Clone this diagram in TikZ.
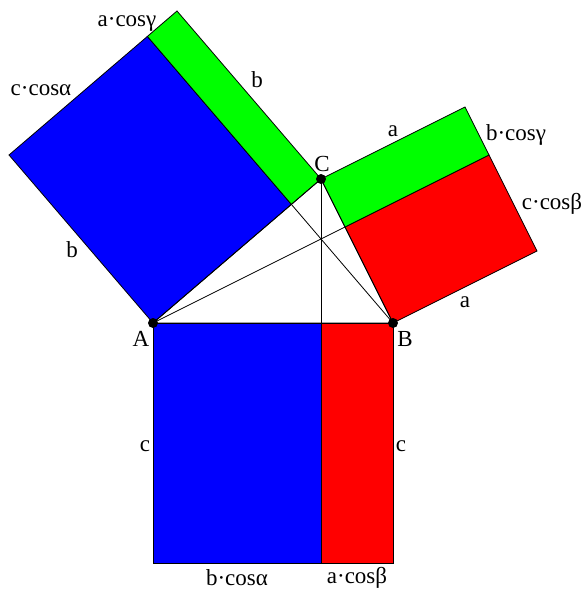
\documentclass[tikz,border=0pt]{standalone}
\usepackage{fontspec}
\setmainfont{Liberation Serif}
\newfontfamily\lblfont{Liberation Serif}
\usepackage{xcolor}

\begin{document}
\begin{tikzpicture}[x=1pt, y=-1pt,
    part/.style={draw=black, line width=0.8pt},
    edge/.style={black, line width=0.8pt},
    dot/.style={circle, fill=black, inner sep=0pt, minimum size=10pt},
    lbl/.style={inner sep=0pt, font=\lblfont\fontsize{23}{26}\selectfont}]
                \useasboundingbox (0,0) rectangle (584,590);
                % Triangle vertices and feet of the altitudes
                \coordinate (A) at (153,323);
                \coordinate (B) at (393,323);
                \coordinate (C) at (321,179);
                \coordinate (Ha) at (345,227);
                \coordinate (Hb) at (291.4,204.4);
                \coordinate (Hc) at (321,323);
                
                % Outer corners of the squares
                \coordinate (Ab) at (9,155);
                \coordinate (Cb) at (177,11);
                \coordinate (Hbb) at (147.4,36.4);
                \coordinate (Ba) at (537,251);
                \coordinate (Ca) at (465,107);
                \coordinate (Haa) at (489,155);
                \coordinate (Ac) at (153,563);
                \coordinate (Bc) at (393,563);
                \coordinate (Hcc) at (321,563);
                
                % Square on AC
                \filldraw[part, fill=blue] (A) -- (Hb) -- (Hbb) -- (Ab) -- cycle;
                \filldraw[part, fill=green] (Hb) -- (C) -- (Cb) -- (Hbb) -- cycle;
                
                % Square on BC
                \filldraw[part, fill=red] (B) -- (Ha) -- (Haa) -- (Ba) -- cycle;
                \filldraw[part, fill=green] (Ha) -- (C) -- (Ca) -- (Haa) -- cycle;
                
                % Square on AB
                \filldraw[part, fill=blue] (A) -- (Hc) -- (Hcc) -- (Ac) -- cycle;
                \filldraw[part, fill=red] (Hc) -- (B) -- (Bc) -- (Hcc) -- cycle;
                
                % Triangle and altitudes
                \draw[edge] (A) -- (B) -- (C) -- cycle;
                \draw[edge] (A) -- (Ha);
                \draw[edge] (B) -- (Hb);
                \draw[edge] (C) -- (Hcc);
                
                % Vertices
                \node[dot] (dotA) at (A) {};
                \node[dot] (dotB) at (B) {};
                \node[dot] (dotC) at (C) {};
                \node[lbl] (lblA) at (141,339) {A};
                \node[lbl] (lblB) at (405,339) {B};
                \node[lbl] (lblC) at (322,164) {C};
                
                % Side labels
                \node[lbl] (acg) at (127,24) {a·cosγ};
                \node[lbl] (cca) at (41,90) {c·cosα};
                \node[lbl] (bt) at (257,80) {b};
                \node[lbl] (bl) at (72,250) {b};
                \node[lbl] (at) at (393,131) {a};
                \node[lbl] (bcg) at (516,135) {b·cosγ};
                \node[lbl] (ccb) at (552,204) {c·cosβ};
                \node[lbl] (ar) at (465,302) {a};
                \node[lbl] (cl) at (145,446) {c};
                \node[lbl] (cr) at (401,446) {c};
                \node[lbl] (bca) at (237,578) {b·cosα};
                \node[lbl] (acb) at (357,578) {a·cosβ};
            \end{tikzpicture}
\end{document}
